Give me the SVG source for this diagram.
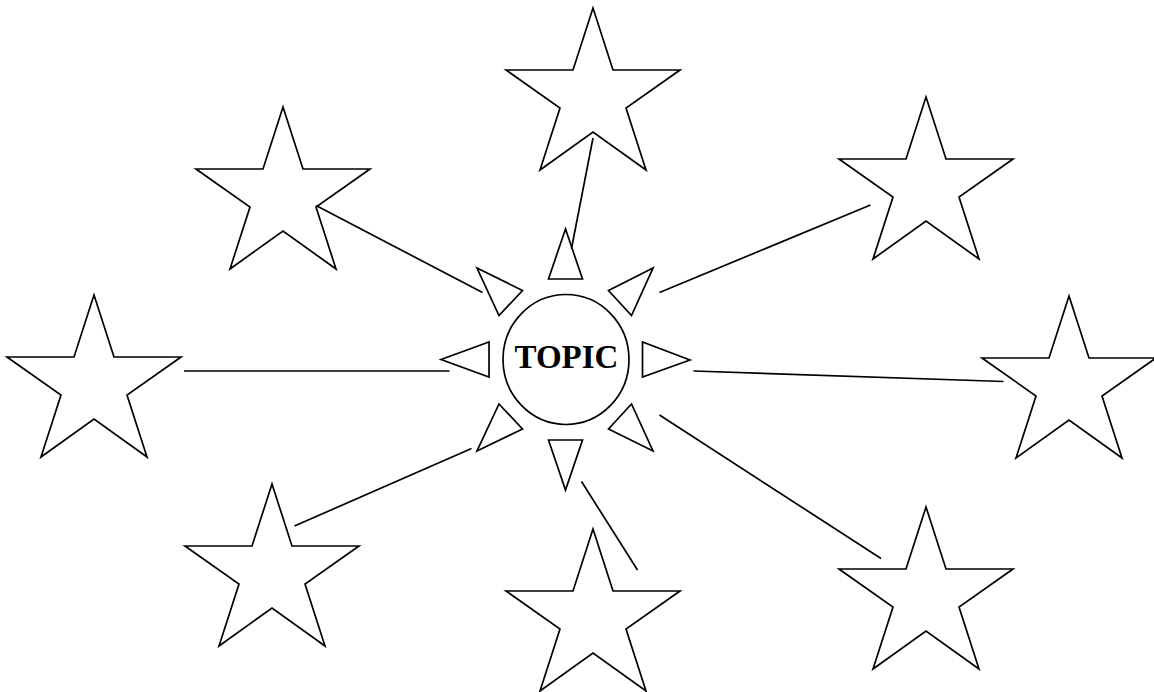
<svg xmlns="http://www.w3.org/2000/svg" xmlns:xlink="http://www.w3.org/1999/xlink" width="1154" height="692" viewBox="0 0 1154 692">
<style>
.s{fill:#fff;stroke:#000;stroke-width:1.7;stroke-linejoin:miter}
.c line{stroke:#000;stroke-width:1.7;fill:none}
.t{font-family:"Liberation Serif","Times New Roman",serif;font-weight:bold;font-size:33px;fill:#000}
</style>
<defs>
<polygon id="star" points="0,0 20,62 87,62 33,100 53,162 0,124 -53,162 -33,100 -87,62 -20,62"/>
</defs>
<rect width="1154" height="692" fill="#fff"/>
<g id="star-top"><use xlink:href="#star" href="#star" class="s" transform="translate(593,8)"/></g>
<g id="star-upper-left"><use xlink:href="#star" href="#star" class="s" transform="translate(283,107)"/></g>
<g id="star-upper-right"><use xlink:href="#star" href="#star" class="s" transform="translate(926,97)"/></g>
<g id="star-left"><use xlink:href="#star" href="#star" class="s" transform="translate(94,295)"/></g>
<g id="star-right"><use xlink:href="#star" href="#star" class="s" transform="translate(1069,296)"/></g>
<g id="star-lower-left"><use xlink:href="#star" href="#star" class="s" transform="translate(272,484)"/></g>
<g id="star-bottom"><use xlink:href="#star" href="#star" class="s" transform="translate(593,529)"/></g>
<g id="star-lower-right"><use xlink:href="#star" href="#star" class="s" transform="translate(926,507)"/></g>
<g id="topic">
<ellipse class="s" cx="566" cy="359.5" rx="63" ry="65"/>
<text class="t" x="566.5" y="367.5" text-anchor="middle">TOPIC</text>
<polygon class="s" points="565.5,229 548.5,279 582.5,279"/>
<polygon class="s" points="548.5,440 582.5,440 565.5,490"/>
<polygon class="s" points="441,359.5 489,342 489,377"/>
<polygon class="s" points="642.5,342 642.5,377 690,360"/>
<polygon class="s" points="477,268 522.5,290.5 499,315.5"/>
<polygon class="s" points="653,268 608.5,290.5 631.5,315.5"/>
<polygon class="s" points="499,404 522.5,429 477,451"/>
<polygon class="s" points="631.5,404 608.5,429 653,451"/>
</g>
<g id="connectors" class="c">
<line x1="593" y1="138" x2="571.5" y2="248.5"/>
<line x1="316" y1="205.5" x2="482.5" y2="292.5"/>
<line x1="870.5" y1="205" x2="659.5" y2="292.5"/>
<line x1="184" y1="371" x2="449.5" y2="371"/>
<line x1="693.5" y1="371" x2="1003.5" y2="381.5"/>
<line x1="294.5" y1="526" x2="471.5" y2="448.5"/>
<line x1="659.5" y1="415" x2="881" y2="558.5"/>
<line x1="581.5" y1="481.5" x2="637.5" y2="570"/>
</g>
</svg>
